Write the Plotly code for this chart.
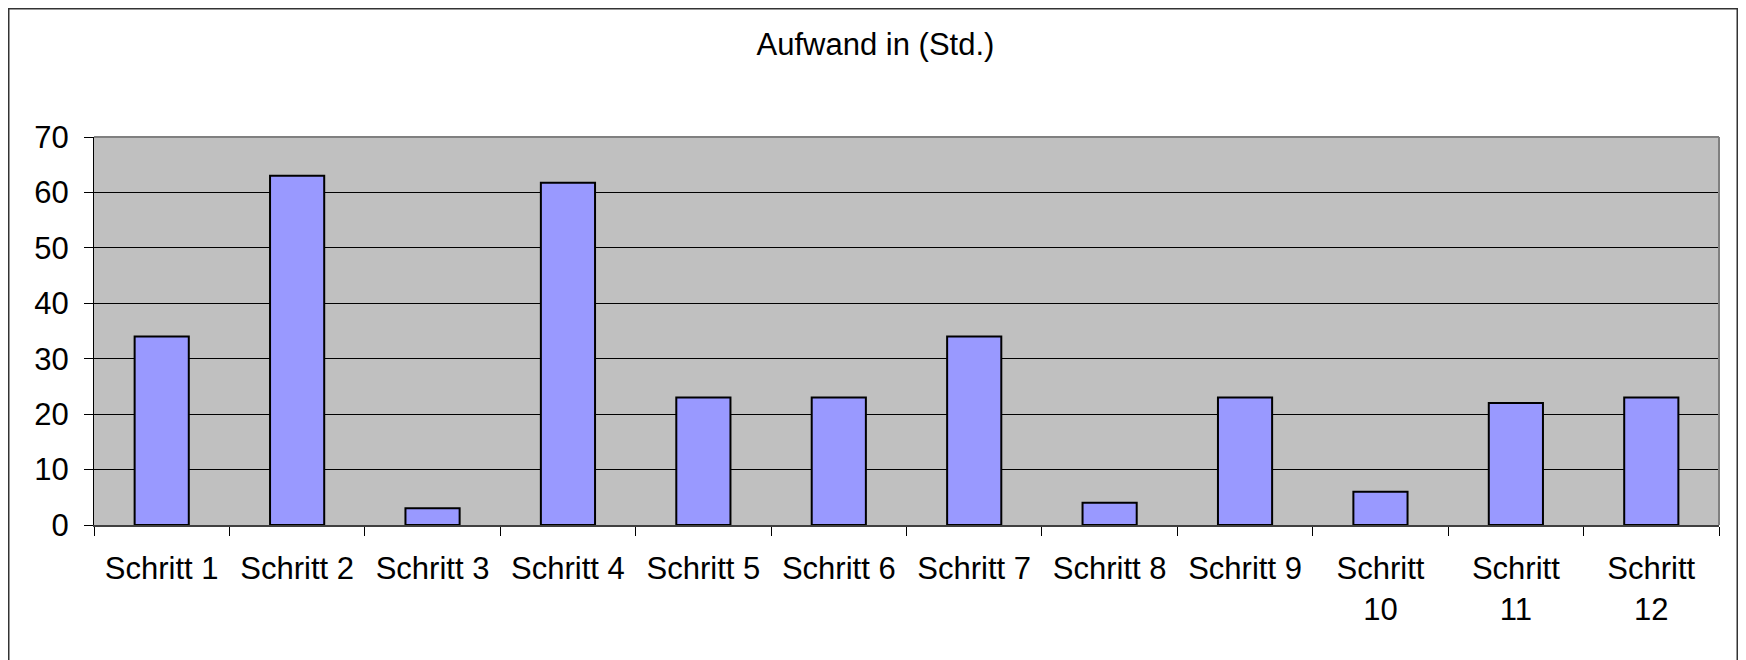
import plotly.graph_objects as go

categories = ["Schritt 1", "Schritt 2", "Schritt 3", "Schritt 4", "Schritt 5", "Schritt 6",
              "Schritt 7", "Schritt 8", "Schritt 9", "Schritt 10", "Schritt 11", "Schritt 12"]
tick_labels = ["Schritt 1", "Schritt 2", "Schritt 3", "Schritt 4", "Schritt 5", "Schritt 6",
               "Schritt 7", "Schritt 8", "Schritt 9", "Schritt<br>10", "Schritt<br>11", "Schritt<br>12"]
values = [34, 63, 3, 61.75, 23, 23, 34, 4, 23, 6, 22, 23]
y_ticks = [0, 10, 20, 30, 40, 50, 60, 70]
title_text = "Aufwand in (Std.)"

FONT = "Arial, 'Liberation Sans', sans-serif"
FS = 31

# the page body adds an 8px offset; figure coordinates below are page coordinates minus 8
W, H = 1730, 652
L, R, T, B = 86, 19, 129, 135
pw = W - L - R
ph = H - T - B

def px_x(p):
    return (p - L) / pw

def px_y(p):
    return (H - B - p) / ph

fig = go.Figure(go.Bar(
    x=categories,
    y=values,
    marker=dict(color="#9999FF", line=dict(color="#000000", width=2)),
    hoverinfo="x+y",
))

fig.update_layout(
    width=W, height=H,
    margin=dict(l=L, r=R, t=T, b=B, pad=0),
    paper_bgcolor="#FFFFFF",
    plot_bgcolor="#C0C0C0",
    bargap=0.6,
    showlegend=False,
    font=dict(family=FONT, size=FS, color="#000000"),
    title=dict(text=title_text, x=px_x(867.5), xref="paper", xanchor="center",
               y=1 - 36 / H, yanchor="middle", font=dict(family=FONT, size=FS, color="#000000")),
)

fig.update_xaxes(
    type="category",
    tickmode="array",
    tickvals=categories,
    ticktext=tick_labels,
    tickson="boundaries",
    ticks="outside", ticklen=9, tickwidth=1, tickcolor="#000000",
    showline=True, linecolor="#404040", linewidth=2,
    showgrid=False,
    tickfont=dict(family=FONT, size=FS, color="#000000"),
    ticklabelstandoff=15,
)
fig.update_yaxes(
    range=[0, 70],
    tickmode="array", tickvals=y_ticks,
    ticks="outside", ticklen=9, tickwidth=1, tickcolor="#000000",
    showline=True, linecolor="#000000", linewidth=1,
    showgrid=True, gridcolor="#000000", gridwidth=1,
    zeroline=False,
    tickfont=dict(family=FONT, size=FS, color="#000000"),
    ticklabelstandoff=9,
)

# plot-area border (top and right, gray)
fig.add_shape(type="line", xref="paper", yref="paper", x0=0, x1=1, y0=1, y1=1,
              line=dict(color="#808080", width=2), layer="above")
fig.add_shape(type="line", xref="paper", yref="paper", x0=1, x1=1, y0=0, y1=1,
              line=dict(color="#808080", width=2), layer="above")

# outer chart frame
fig.add_shape(type="rect", xref="paper", yref="paper",
              x0=px_x(0.75), x1=px_x(1729.25), y0=px_y(H + 10), y1=px_y(0.75),
              line=dict(color="#333333", width=1.5), fillcolor="rgba(0,0,0,0)", layer="above")

fig.write_html("out.html")
